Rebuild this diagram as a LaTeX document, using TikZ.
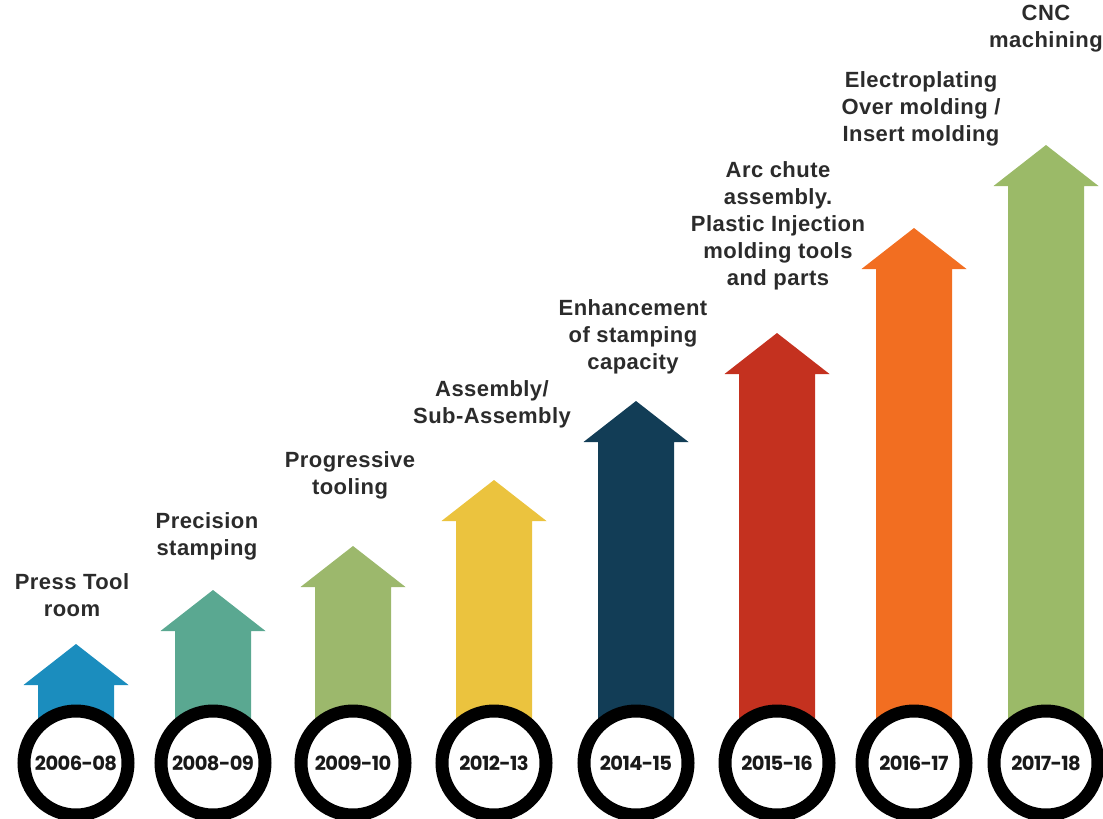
\documentclass[tikz,border=0pt]{standalone}
\usepackage{fontspec}
\setmainfont{Liberation Sans}[LetterSpace=2]
\newfontfamily\yearfont{Poppins}[LetterSpace=-3]
\usepackage{xcolor}
\definecolor{labelgray}{HTML}{2B2B2B}
\definecolor{arrA}{HTML}{1B8DBE}
\definecolor{arrB}{HTML}{5AA891}
\definecolor{arrC}{HTML}{9CB86C}
\definecolor{arrD}{HTML}{EBC33E}
\definecolor{arrE}{HTML}{123D56}
\definecolor{arrF}{HTML}{C4311F}
\definecolor{arrG}{HTML}{F26E21}
\definecolor{arrH}{HTML}{9BBA68}
\tikzstyle{lbl}=[font=\fontsize{22}{27}\selectfont\bfseries, text=labelgray, align=center, inner sep=0pt, anchor=north]
\tikzstyle{yearring}=[circle, draw=black, line width=13pt, fill=white, minimum size=104pt, inner sep=0pt, text=black!90, font=\yearfont\bfseries\fontsize{19.5}{19.5}\selectfont]

\begin{document}
\begin{tikzpicture}[x=1pt,y=-1pt]
\useasboundingbox (0,0) rectangle (1103,819);
% arrows, tip height per year
\foreach \i/\x/\t/\c in {1/76/644/arrA,2/213/590/arrB,3/353/546/arrC,4/494/480/arrD,5/636/401/arrE,6/777/333/arrF,7/914/228/arrG,8/1046/145/arrH} {
	\coordinate (tip\i) at (\x,\t);
	\fill[\c] (tip\i) -- (\x+52.5,\t+41) -- (\x+38,\t+41) -- (\x+38,762) -- (\x-38,762) -- (\x-38,\t+41) -- (\x-52.5,\t+41) -- cycle;
}
\foreach \i/\x/\yr in {1/76/2006-08,2/213/2008-09,3/353/2009-10,4/494/2012-13,5/636/2014-15,6/777/2015-16,7/914/2016-17,8/1046/2017-18} {
	\node[yearring] (year\i) at (\x,763) {\yr};
}
\node[lbl] (step1) at (72,573) {Press Tool\\room};
\node[lbl] (step2) at (207,512) {Precision\\stamping};
\node[lbl] (step3) at (350,451) {Progressive\\tooling};
\node[lbl] (step4) at (492,380) {Assembly/\\Sub-Assembly};
\node[lbl] (step5) at (633,299) {Enhancement\\of stamping\\capacity};
\node[lbl] (step6) at (778,161) {Arc chute\\assembly.\\Plastic Injection\\molding tools\\and parts};
\node[lbl] (step7) at (921,71) {Electroplating\\Over molding /\\Insert molding};
\node[lbl] (step8) at (1046,5) {CNC\\machining};
\end{tikzpicture}
\end{document}
